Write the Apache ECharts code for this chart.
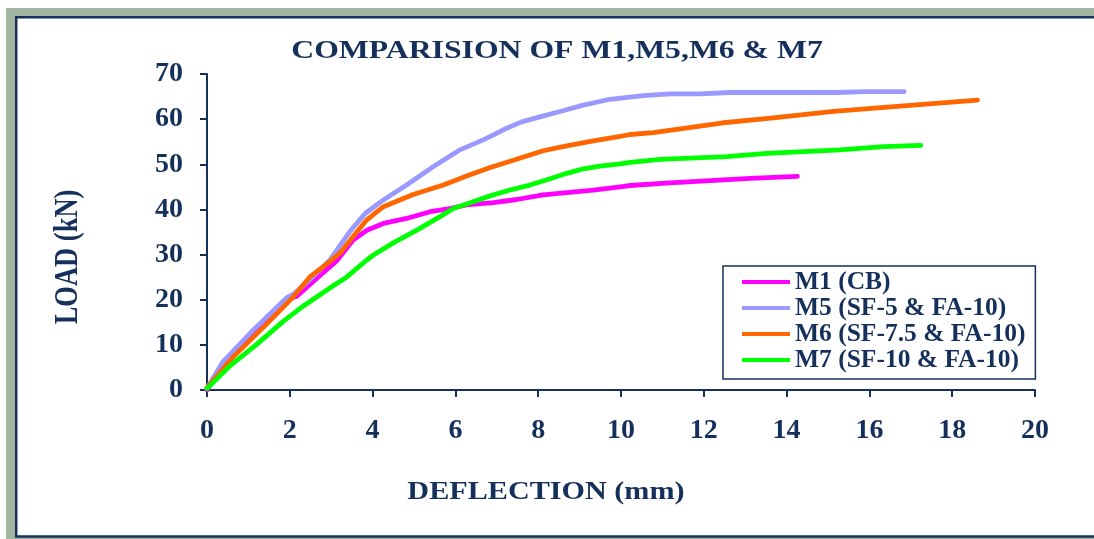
<!DOCTYPE html>
<html>
<head>
<meta charset="utf-8">
<script src="https://cdn.jsdelivr.net/npm/echarts@6/dist/echarts.min.js"></script>
<style>
html,body{margin:0;padding:0;background:#ffffff;overflow:hidden;}
#chart{width:1094px;height:539px;}
</style>
</head>
<body>
<div id="chart"></div>
<script>
// ---- data (deflection mm, load kN) ----
const titleText = 'COMPARISION OF M1,M5,M6 & M7';
const xName = 'DEFLECTION (mm)';
const yName = 'LOAD (kN)';
const seriesNames = ['M1 (CB)', 'M5 (SF-5 & FA-10)', 'M6 (SF-7.5 & FA-10)', 'M7 (SF-10 & FA-10)'];
const seriesColors = ['#ff00ff', '#9999ff', '#ff6600', '#00ff00'];
const xMin = 0, xMax = 20, xStep = 2;
const yMin = 0, yMax = 70, yStep = 10;

const m1 = [[0,0],[0.4,5.6],[1.12,13.0],[1.9,20.0],[2.17,20.8],[2.6,24.3],[3.13,28.6],[3.53,33.2],[3.86,35.4],[4.26,36.9],[4.82,38.0],[5.39,39.5],[5.87,40.2],[6.27,41.0],[6.92,41.5],[7.48,42.2],[8.12,43.2],[8.69,43.7],[9.33,44.3],[9.98,45.0],[10.22,45.3],[11.18,45.9],[12.15,46.4],[13.12,46.9],[14.26,47.3]];
const m5 = [[0,0.4],[0.39,6.3],[1.12,13.3],[1.92,20.4],[2.1,21.3],[2.49,24.5],[2.97,28.8],[3.45,35.1],[3.82,39.1],[4.26,42.1],[4.82,45.4],[5.47,49.5],[6.11,53.2],[6.67,55.4],[6.92,56.5],[7.24,58.0],[7.60,59.4],[8.04,60.5],[8.53,61.7],[9.09,63.1],[9.73,64.4],[10.54,65.2],[11.18,65.6],[11.91,65.6],[12.63,65.9],[13.52,65.9],[15.21,65.9],[15.93,66.1],[16.84,66.1]];
const m6 = [[0,0.5],[0.64,7.4],[1.44,14.6],[2.09,20.7],[2.49,25.1],[2.89,27.9],[3.21,30.3],[3.53,34.0],[3.86,37.7],[4.26,40.6],[4.98,43.3],[5.71,45.4],[6.27,47.4],[6.84,49.3],[7.40,50.9],[8.12,53.0],[8.69,54.1],[9.33,55.2],[9.98,56.2],[10.22,56.6],[10.78,57.0],[12.47,59.2],[13.68,60.3],[15.13,61.7],[16.90,63.0],[18.61,64.2]];
const m7 = [[0,0.3],[0.56,5.4],[1.2,10.1],[1.84,15.2],[2.25,18.1],[2.65,20.6],[3.05,23.1],[3.37,25.0],[3.86,28.8],[4.02,29.9],[4.50,32.6],[5.07,35.4],[5.63,38.4],[5.95,40.2],[6.27,41.2],[6.84,43.0],[7.32,44.3],[7.80,45.4],[8.29,46.8],[8.69,48.0],[9.09,49.0],[9.49,49.6],[9.98,50.1],[10.22,50.4],[10.94,51.1],[12.55,51.7],[13.52,52.4],[15.29,53.2],[16.34,53.9],[17.24,54.2]];
const seriesData = [m1, m5, m6, m7];

const navy = '#15305b';
const serif = '"Liberation Serif", "Times New Roman", serif';

const chart = echarts.init(document.getElementById('chart'), null, {renderer: 'canvas', width: 1094, height: 539});
chart.setOption({
  animation: false,
  backgroundColor: '#ffffff',
  graphic: [
    {type: 'rect', z: -10, silent: true, shape: {x: 6, y: 8, width: 1088, height: 531}, style: {fill: '#a2b5a1'}},
    {type: 'rect', z: -9, silent: true, shape: {x: 16, y: 17, width: 1078, height: 520}, style: {fill: '#ffffff'}},
    {type: 'polyline', z: -8, silent: true, shape: {points: [[1094, 17.2], [16.2, 17.2], [16.2, 536.5], [1094, 536.5]]}, style: {stroke: navy, lineWidth: 2.5, fill: null}},
    {type: 'text', z: 10, x: 557, y: 51, scaleX: 1.22, style: {text: titleText, fill: navy, font: 'bold 26px ' + serif, textAlign: 'center', textVerticalAlign: 'middle'}},
    {type: 'text', z: 10, x: 546, y: 492, scaleX: 1.16, style: {text: xName, fill: navy, font: 'bold 26px ' + serif, textAlign: 'center', textVerticalAlign: 'middle'}},
    {type: 'text', z: 10, x: 68, y: 257, rotation: Math.PI / 2, scaleY: 1.25, style: {text: yName, fill: navy, font: 'bold 26.5px ' + serif, textAlign: 'center', textVerticalAlign: 'middle'}}
  ],
  legend: {
    orient: 'vertical',
    left: 723, top: 266,
    data: seriesNames,
    icon: 'rect',
    itemWidth: 48, itemHeight: 4, itemGap: 0,
    padding: [3, 10, 6, 19],
    backgroundColor: '#ffffff',
    borderColor: navy, borderWidth: 1.5,
    textStyle: {color: navy, fontFamily: serif, fontWeight: 'bold', fontSize: 25.5, lineHeight: 24}
  },
  grid: {left: 207, right: 59, top: 74, bottom: 149, containLabel: false},
  xAxis: {
    type: 'value', min: xMin, max: xMax, interval: xStep,
    axisLine: {show: true, lineStyle: {color: navy, width: 2}},
    axisTick: {show: true, inside: false, length: 7, lineStyle: {color: navy, width: 2}},
    axisLabel: {color: navy, fontFamily: serif, fontWeight: 'bold', fontSize: 28, margin: 27},
    splitLine: {show: false}
  },
  yAxis: {
    type: 'value', min: yMin, max: yMax, interval: yStep,
    axisLine: {show: true, lineStyle: {color: navy, width: 2}},
    axisTick: {show: true, inside: false, length: 7, lineStyle: {color: navy, width: 2}},
    axisLabel: {color: navy, fontFamily: serif, fontWeight: 'bold', fontSize: 28, margin: 24},
    splitLine: {show: false}
  },
  series: seriesNames.map((n, i) => ({
    name: n, type: 'line', data: seriesData[i],
    showSymbol: false, symbol: 'none',
    lineStyle: {color: seriesColors[i], width: 4.8, cap: 'round', join: 'round'},
    itemStyle: {color: seriesColors[i]}
  }))
});
</script>
</body>
</html>
